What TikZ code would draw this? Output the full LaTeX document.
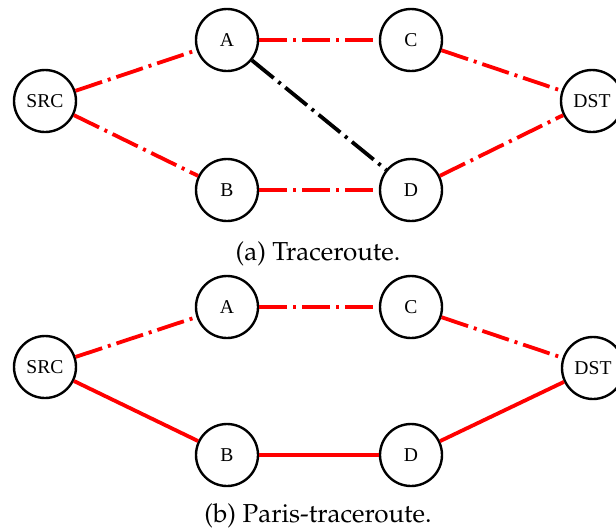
\documentclass[tikz,border=0pt]{standalone}
\usepackage{fontspec}
\setmainfont{Liberation Serif}
\newcommand{\capfont}{\fontencoding{OT1}\fontfamily{ppl}\fontsize{13}{15}\selectfont}
\begin{document}
\begin{tikzpicture}[x=0.5pt, y=-0.5pt,
    router/.style={circle, draw=black, line width=1.2pt, minimum size=31pt,
      inner sep=0pt, font=\fontsize{9.8}{10}\selectfont},
    hop/.style={red, line width=1.9pt},
    hopdash/.style={hop, dash pattern=on 14pt off 3pt on 1.5pt off 3pt},
    wrongdash/.style={black, line width=1.9pt, dash pattern=on 14pt off 3pt on 1.5pt off 3pt},
    caption/.style={font=\capfont, inner sep=0pt}]
  \useasboundingbox (0,0) rectangle (616,531);

  % (a) traceroute
  \node[router] (nSRCa) at (45,101) {SRC};
  \node[router] (nAa) at (227,40) {A};
  \node[router] (nBa) at (227,190) {B};
  \node[router] (nCa) at (411,40) {C};
  \node[router] (nDa) at (411,190) {D};
  \node[router] (nDSTa) at (592,101) {DST};

  \draw[hopdash] (nSRCa) -- (nAa);
  \draw[hopdash] (nSRCa) -- (nBa);
  \draw[hopdash] (nAa) -- (nCa);
  \draw[hopdash] (nBa) -- (nDa);
  \draw[hopdash] (nCa) -- (nDSTa);
  \draw[hopdash] (nDa) -- (nDSTa);
  \draw[wrongdash] (nAa) -- (nDa);

  \node[caption] (capa) at (318,254) {(a) Traceroute.};

  % (b) paris-traceroute
  \node[router] (nSRCb) at (45,367) {SRC};
  \node[router] (nAb) at (227,307) {A};
  \node[router] (nBb) at (227,455) {B};
  \node[router] (nCb) at (411,307) {C};
  \node[router] (nDb) at (411,455) {D};
  \node[router] (nDSTb) at (593,368) {DST};

  \draw[hopdash] (nSRCb) -- (nAb);
  \draw[hopdash] (nAb) -- (nCb);
  \draw[hopdash] (nCb) -- (nDSTb);
  \draw[hop] (nSRCb) -- (nBb);
  \draw[hop] (nBb) -- (nDb);
  \draw[hop] (nDb) -- (nDSTb);

  \node[caption] (capb) at (318,516) {(b) Paris-traceroute.};
\end{tikzpicture}
\end{document}
